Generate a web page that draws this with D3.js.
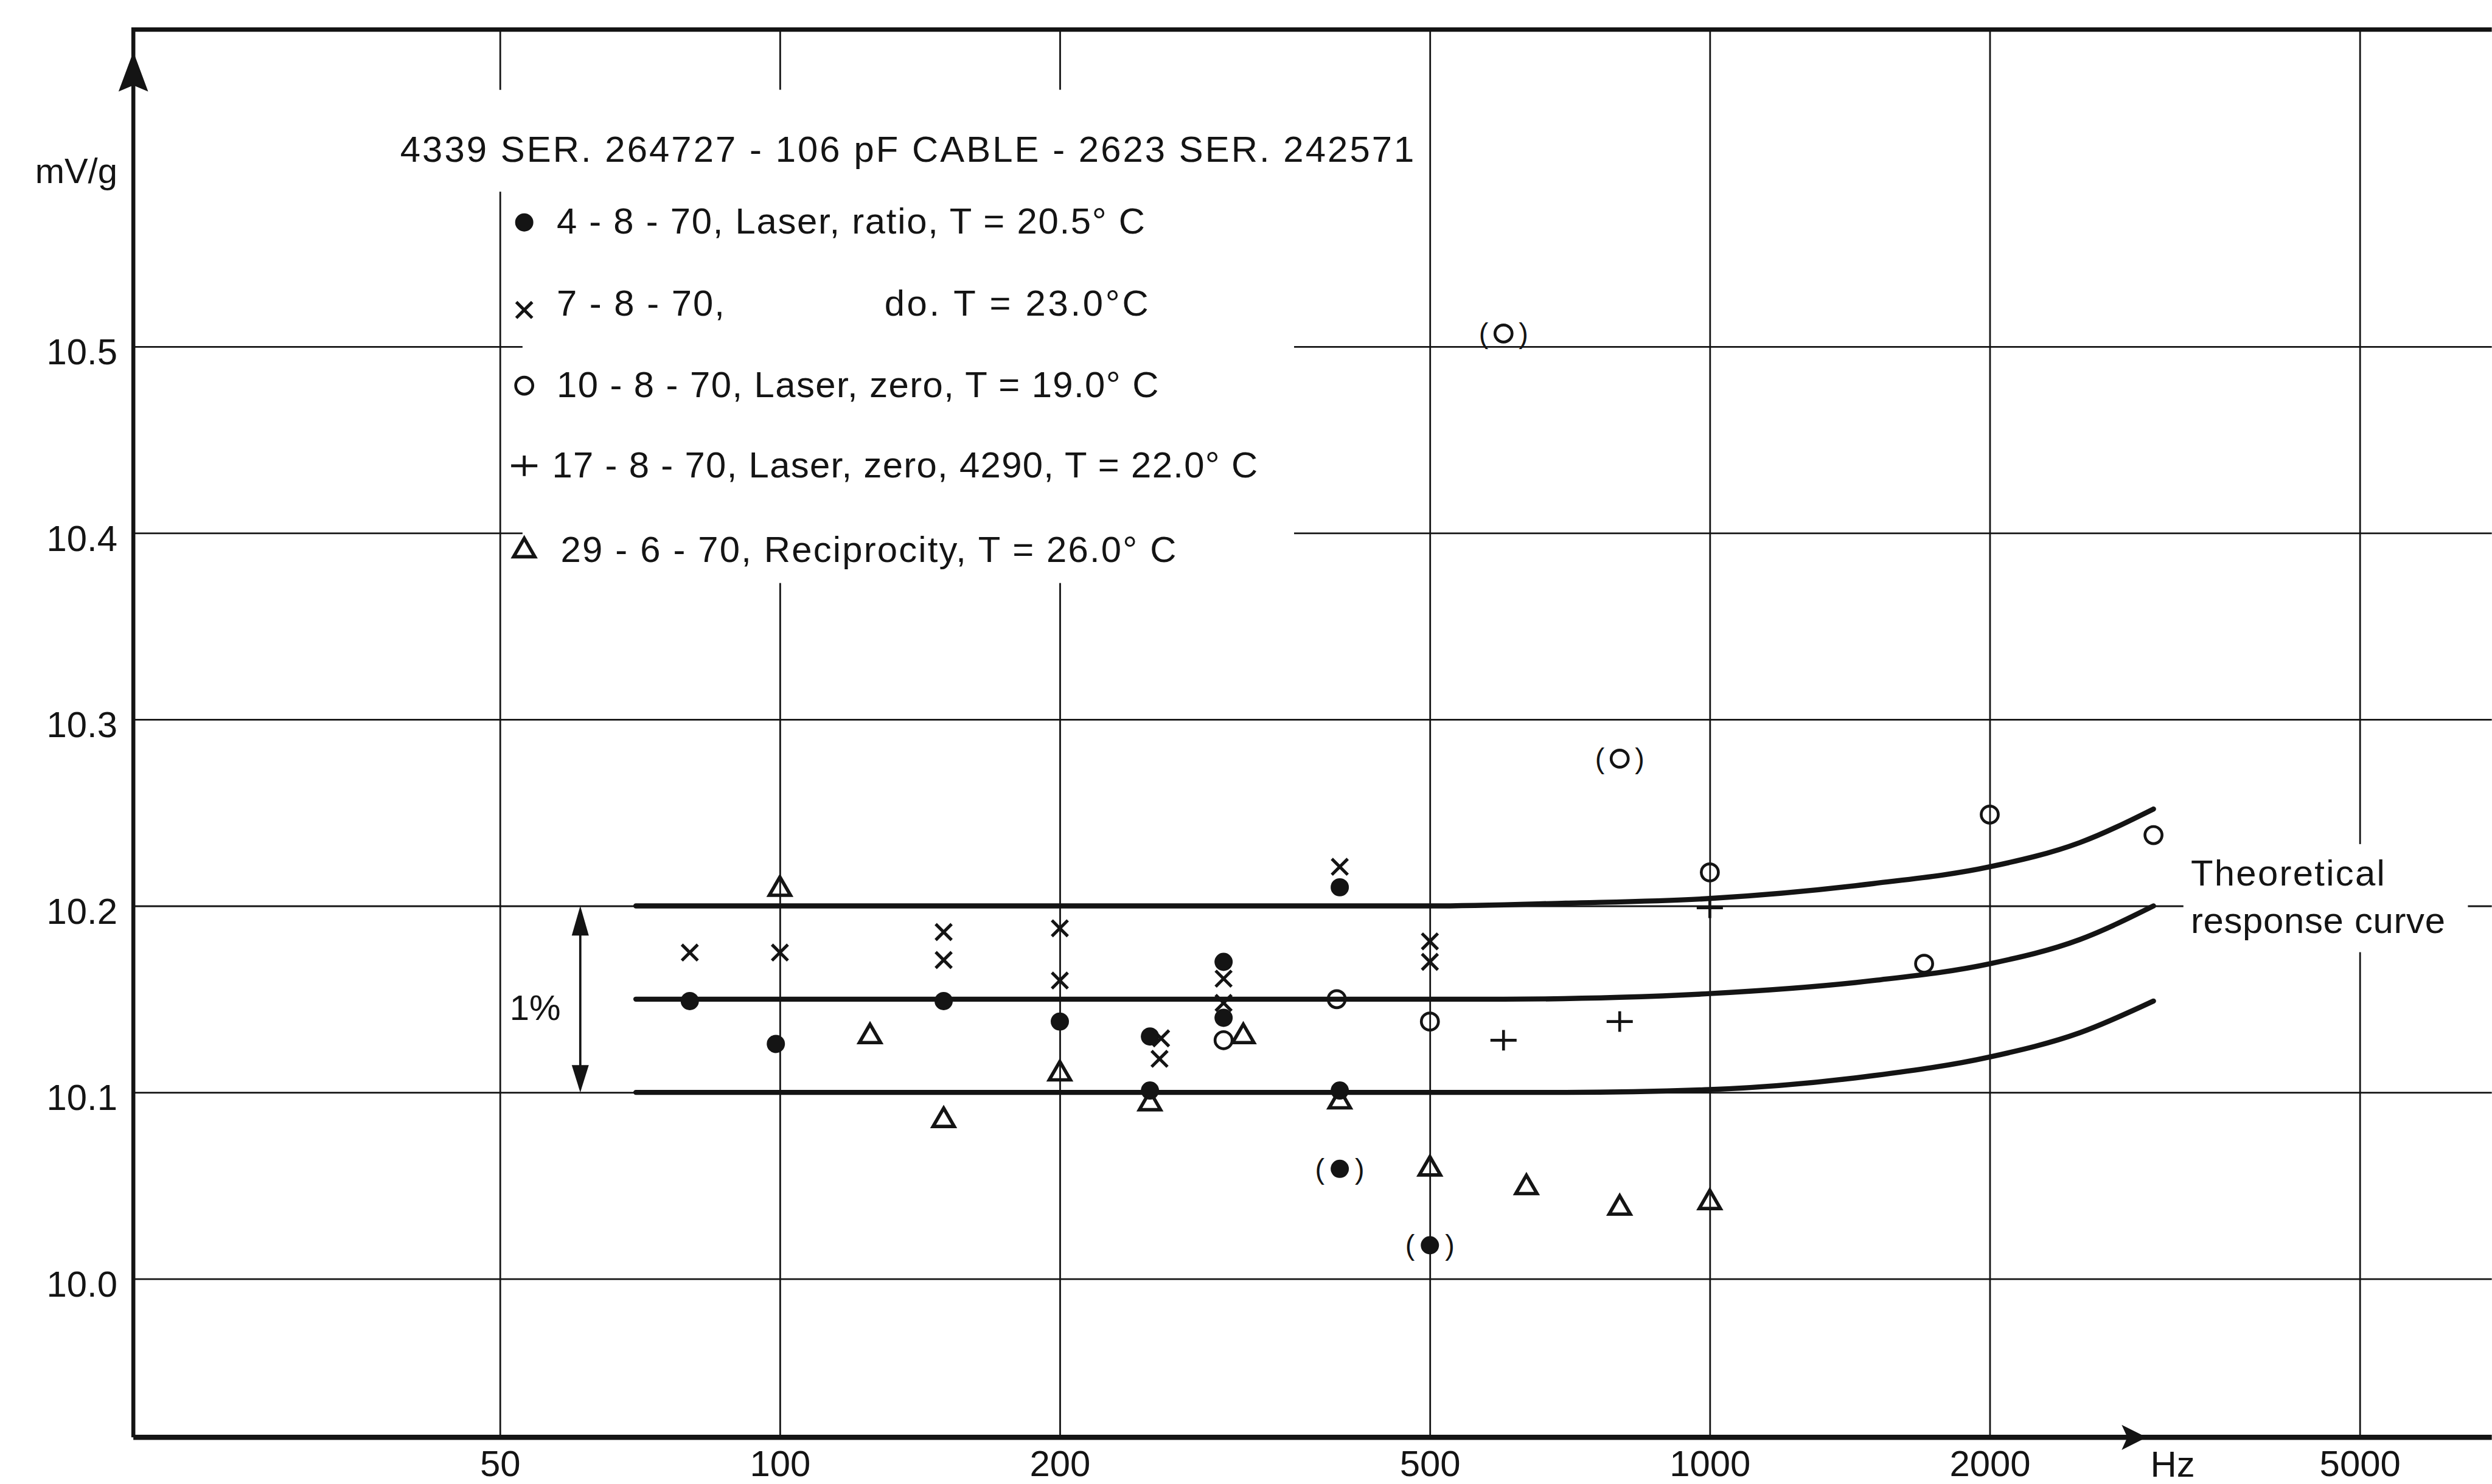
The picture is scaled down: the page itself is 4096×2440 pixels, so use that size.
<!DOCTYPE html>
<html>
<head>
<meta charset="utf-8">
<script src="https://cdn.jsdelivr.net/npm/d3@7"></script>
<style>
  html, body { margin: 0; padding: 0; background: #fff; }
  svg { display: block; }
</style>
</head>
<body>
<script>
// axis ticks (Hz on a log scale, mV/g linear)
const freqTicks = [50, 100, 200, 500, 1000, 2000, 5000]
const valueTicks = [10.0, 10.1, 10.2, 10.3, 10.4, 10.5]

// 4-8-70, Laser, ratio  (filled dots)
const ratioRun = [[80, 10.149], [99, 10.126], [150, 10.149], [200, 10.138], [250, 10.13], [250, 10.101],
  [300, 10.17], [300, 10.14], [400, 10.21], [400, 10.101]]
const ratioRunDoubtful = [[400, 10.059], [500, 10.018]]

// 7-8-70, do.  (crosses)
const crossRun = [[80, 10.175], [100, 10.175], [150, 10.186], [150, 10.171], [200, 10.188], [200, 10.16],
  [257, 10.129], [256, 10.118], [300, 10.161], [300, 10.148], [400, 10.221], [500, 10.181], [500, 10.17]]

// 10-8-70, Laser, zero  (open circles)
const zeroRun = [[300, 10.128], [397, 10.15], [500, 10.138], [1000, 10.218], [1700, 10.169], [2000, 10.249], [3000, 10.238]]
const zeroRunDoubtful = [[600, 10.507], [800, 10.279]]

// 17-8-70, Laser, zero, 4290  (plus signs)
const plusRun = [[600, 10.128], [800, 10.138], [1000, 10.199]]

// 29-6-70, Reciprocity  (triangles)
const reciprocityRun = [[100, 10.209], [125, 10.13], [150, 10.085], [200, 10.11], [250, 10.094], [315, 10.13],
  [400, 10.095], [500, 10.059], [635, 10.049], [800, 10.038], [1000, 10.041]]

// theoretical response curve with its +/- 0.5 % band
const curveUpper = [[70, 10.2], [500, 10.2], [700, 10.2015], [1000, 10.204], [1500, 10.212], [2000, 10.221], [2500, 10.234], [3000, 10.252]]
const curveMiddle = [[70, 10.15], [600, 10.15], [800, 10.151], [1000, 10.153], [1500, 10.16], [2000, 10.169], [2500, 10.182], [3000, 10.2]]
const curveLower = [[70, 10.1], [700, 10.1], [1000, 10.1015], [1500, 10.109], [2000, 10.119], [2500, 10.132], [3000, 10.149]]

const legendTitle = '4339 SER. 264727 - 106 pF CABLE - 2623 SER. 242571'
const legendLabels = [
  '4 - 8 - 70, Laser, ratio, T = 20.5° C',
  '7 - 8 - 70,',
  '10 - 8 - 70, Laser, zero, T = 19.0° C',
  '17 - 8 - 70, Laser, zero, 4290, T = 22.0° C',
  '29 - 6 - 70, Reciprocity, T = 26.0° C'
]
const legendKinds = ['dot', 'cross', 'ring', 'plus', 'triangle']

// everything is laid out in reference pixels, the viewBox scales it to the window
const W = 4379
const H = 2609
const plotLeft = 234
const plotRight = 4379
const plotTop = 52
const plotBottom = 2527
const FONT = "'Liberation Sans', Arial, Helvetica, sans-serif"
const INK = '#141414'

const svg = d3.select('body').append('svg')
  .attr('width', 4096)
  .attr('height', 2440)
  .attr('viewBox', `0 0 ${W} ${H}`)

svg.append('rect').attr('width', W).attr('height', H).attr('fill', '#fff')

const x = d3.scaleLog().domain([20.17, 6933]).range([plotLeft, plotRight])
const y = d3.scaleLinear().domain([9.915, 10.67]).range([plotBottom, plotTop])

/* ------- GRID + TICK LABELS ------- */
const gy = svg.append('g')
  .attr('transform', `translate(${plotLeft},0)`)
  .call(d3.axisLeft(y).tickValues(valueTicks).tickSize(-(plotRight - plotLeft)).tickPadding(28).tickFormat(d3.format('.1f')))
gy.attr('font-family', FONT).attr('font-size', 64)
gy.select('.domain').remove()
gy.selectAll('.tick line').attr('stroke', INK).attr('stroke-width', 3)
gy.selectAll('.tick text').attr('fill', INK).attr('dy', '0.48em')

const gx = svg.append('g')
  .attr('transform', `translate(0,${plotBottom})`)
  .call(d3.axisBottom(x).tickValues(freqTicks).tickSize(-(plotBottom - plotTop)).tickPadding(23).tickFormat(d3.format('d')))
gx.attr('font-family', FONT).attr('font-size', 64)
gx.select('.domain').remove()
gx.selectAll('.tick line').attr('stroke', INK).attr('stroke-width', 3)
gx.selectAll('.tick text').attr('fill', INK)

// white patches behind the legend and the curve label cut the grid
const patches = svg.append('g').attr('fill', '#fff')
patches.append('rect').attr('x', 690).attr('y', 158).attr('width', 1805).attr('height', 179)
patches.append('rect').attr('x', 918).attr('y', 158).attr('width', 1356).attr('height', 867)
patches.append('rect').attr('x', 3837).attr('y', 1484).attr('width', 500).attr('height', 190)

/* ------- THEORETICAL CURVES ------- */
const line = d3.line()
  .x(d => x(d[0]))
  .y(d => y(d[1]))
  .curve(d3.curveMonotoneX)

svg.append('g')
  .selectAll('path')
  .data([curveUpper, curveMiddle, curveLower])
  .enter()
  .append('path')
  .attr('d', line)
  .attr('fill', 'none')
  .attr('stroke', INK)
  .attr('stroke-width', 9)
  .attr('stroke-linecap', 'round')

/* ------- FRAME ------- */
const frame = svg.append('g').attr('stroke', INK).attr('fill', INK)
frame.append('line').attr('x1', plotLeft).attr('x2', plotRight).attr('y1', plotTop).attr('y2', plotTop).attr('stroke-width', 8)
frame.append('line').attr('x1', plotLeft).attr('x2', plotLeft).attr('y1', plotTop - 4).attr('y2', plotBottom).attr('stroke-width', 7)
frame.append('line').attr('x1', plotLeft).attr('x2', plotRight).attr('y1', plotBottom).attr('y2', plotBottom).attr('stroke-width', 9)
// arrow heads on both axes
frame.append('path').attr('stroke', 'none')
  .attr('d', `M${plotLeft},91 L${plotLeft - 26},161 L${plotLeft},150 L${plotLeft + 26},161 Z`)
const hzTip = x(2950)
frame.append('path').attr('stroke', 'none')
  .attr('d', `M${hzTip},${plotBottom} L${hzTip - 44},${plotBottom - 22} L${hzTip - 34},${plotBottom} L${hzTip - 44},${plotBottom + 22} Z`)

svg.append('text')
  .attr('x', 3818).attr('y', 2596)
  .attr('text-anchor', 'middle')
  .attr('font-family', FONT).attr('font-size', 64).attr('fill', INK)
  .text('Hz')

svg.append('text')
  .attr('x', 206).attr('y', 322)
  .attr('text-anchor', 'end')
  .attr('font-family', FONT).attr('font-size', 62).attr('fill', INK)
  .text('mV/g')

/* ------- 1 % BRACKET ------- */
const bx = x(61)
const bTop = y(10.2)
const bBot = y(10.1)
const bracket = svg.append('g').attr('fill', INK).attr('stroke', INK)
bracket.append('line').attr('x1', bx).attr('x2', bx).attr('y1', bTop + 10).attr('y2', bBot - 10).attr('stroke-width', 4)
bracket.append('path').attr('stroke', 'none')
  .attr('d', `M${bx},${bTop} L${bx - 15},${bTop + 52} L${bx + 15},${bTop + 52} Z`)
bracket.append('path').attr('stroke', 'none')
  .attr('d', `M${bx},${bBot} L${bx - 15},${bBot - 48} L${bx + 15},${bBot - 48} Z`)
svg.append('text')
  .attr('x', 985).attr('y', (bTop + bBot) / 2 + 37)
  .attr('text-anchor', 'end')
  .attr('font-family', FONT).attr('font-size', 62).attr('fill', INK)
  .text('1%')

/* ------- MARKERS ------- */
function marker (g, kind, cx, cy) {
  if (kind === 'dot') {
    return g.append('circle').attr('cx', cx).attr('cy', cy).attr('r', 16).attr('fill', INK)
  }
  if (kind === 'ring') {
    return g.append('circle').attr('cx', cx).attr('cy', cy).attr('r', 15)
      .attr('fill', 'none').attr('stroke', INK).attr('stroke-width', 5)
  }
  if (kind === 'cross') {
    const s = 14
    return g.append('path')
      .attr('d', `M${cx - s},${cy - s}L${cx + s},${cy + s}M${cx - s},${cy + s}L${cx + s},${cy - s}`)
      .attr('stroke', INK).attr('stroke-width', 5.5).attr('fill', 'none')
  }
  if (kind === 'plus') {
    return g.append('path')
      .attr('d', `M${cx - 23},${cy}L${cx + 23},${cy}M${cx},${cy - 18}L${cx},${cy + 18}`)
      .attr('stroke', INK).attr('stroke-width', 5).attr('fill', 'none')
  }
  // triangle
  return g.append('path')
    .attr('transform', `translate(${cx},${cy})`)
    .attr('d', d3.symbol().type(d3.symbolTriangle).size(600)())
    .attr('fill', 'none').attr('stroke', INK).attr('stroke-width', 6).attr('stroke-linejoin', 'miter')
}

function parens (g, cx, cy) {
  const p = g.append('g')
    .attr('font-family', FONT).attr('font-size', 50).attr('fill', INK)
    .attr('text-anchor', 'middle')
  p.append('text').attr('x', cx - 35).attr('y', cy + 17).text('(')
  p.append('text').attr('x', cx + 35).attr('y', cy + 17).text(')')
}

const marks = svg.append('g')
const series = [
  [ratioRun, 'dot'],
  [crossRun, 'cross'],
  [zeroRun, 'ring'],
  [plusRun, 'plus'],
  [reciprocityRun, 'triangle'],
  [ratioRunDoubtful, 'dot'],
  [zeroRunDoubtful, 'ring']
]
series.forEach(([data, kind]) => {
  data.forEach(d => marker(marks, kind, x(d[0]), y(d[1])))
})
ratioRunDoubtful.concat(zeroRunDoubtful).forEach(d => parens(marks, x(d[0]), y(d[1])))

/* ------- LEGEND ------- */
const legend = svg.append('g')
  .attr('font-family', FONT).attr('font-size', 64).attr('fill', INK)

legend.append('text')
  .attr('x', 703).attr('y', 284)
  .attr('textLength', 1782).attr('lengthAdjust', 'spacing')
  .text(legendTitle)

const rowBase = [411, 555, 698, 839, 988]
const rowStart = [978, 978, 978, 970, 985]
const rowWidth = [1034, 295, 1058, 1240, 1082]
legendLabels.forEach((label, i) => {
  legend.append('text')
    .attr('x', rowStart[i]).attr('y', rowBase[i])
    .attr('textLength', rowWidth[i]).attr('lengthAdjust', 'spacing')
    .text(label)
  marker(legend, legendKinds[i], 921, rowBase[i] - (legendKinds[i] === 'cross' ? 10 : 20))
})
legend.append('text')
  .attr('x', 1554).attr('y', rowBase[1])
  .attr('textLength', 464).attr('lengthAdjust', 'spacing')
  .text('do.  T = 23.0°C')

/* ------- CURVE LABEL ------- */
const curveLabel = svg.append('g')
  .attr('font-family', FONT).attr('font-size', 64).attr('fill', INK)
curveLabel.append('text').attr('x', 3850).attr('y', y(10.2) - 36)
  .attr('textLength', 341).attr('lengthAdjust', 'spacing')
  .text('Theoretical')
curveLabel.append('text').attr('x', 3850).attr('y', y(10.2) + 47)
  .attr('textLength', 447).attr('lengthAdjust', 'spacing')
  .text('response curve')
</script>
</body>
</html>
